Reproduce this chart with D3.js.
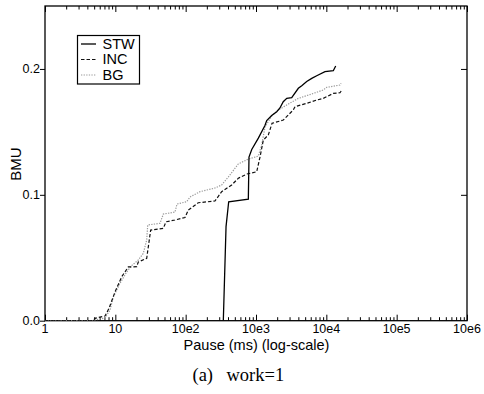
<!DOCTYPE html>
<html><head><meta charset="utf-8">
<script src="https://cdn.jsdelivr.net/npm/d3@7"></script>
<style>
html,body{margin:0;padding:0;background:#fff;}
svg{display:block;}
text{font-family:"Liberation Sans",Arial,Helvetica,sans-serif;fill:#000;}
text.serif{font-family:"Liberation Serif","Times New Roman",serif;}
</style></head>
<body><svg id="chart" width="484" height="394"></svg>
<script>
// ---- data (Pause in ms, BMU) ----
const seriesNames = ["STW", "INC", "BG"];
const stwX = [343, 375, 409, 778, 795, 870, 1080, 1340, 1420, 1670, 1970, 2190, 2440, 2740, 3220, 4000, 4470, 5260, 6200, 7300, 9570, 12560, 13590];
const stwY = [0, 0.0747, 0.0945, 0.0966, 0.130, 0.136, 0.145, 0.155, 0.159, 0.163, 0.166, 0.169, 0.174, 0.1767, 0.1772, 0.1846, 0.1867, 0.190, 0.1925, 0.1946, 0.1978, 0.1986, 0.2023];
const incX = [1, 4.81, 5.14, 7.13, 8.13, 9.89, 12.32, 15.29, 20.13, 21.21, 27.93, 31.8, 48.1, 52.5, 70.5, 87.8, 97.9, 109, 151, 261, 325, 451, 560, 738, 1023, 1140, 1271, 1496, 1690, 2445, 3390, 3590, 5260, 7300, 9060, 12560, 15640, 16870];
const incY = [0, 0, 0.0019, 0.0037, 0.0098, 0.0228, 0.0349, 0.0427, 0.0429, 0.0466, 0.0496, 0.0720, 0.0734, 0.0786, 0.0800, 0.0813, 0.0820, 0.0879, 0.0937, 0.0951, 0.1025, 0.1078, 0.1131, 0.1165, 0.1183, 0.1300, 0.1435, 0.1475, 0.1568, 0.1594, 0.1674, 0.1700, 0.1727, 0.1753, 0.1766, 0.1806, 0.1811, 0.1838];
const bgX = [1, 4.66, 6.05, 7.13, 8.40, 9.36, 11.65, 14.51, 17.09, 21.21, 24.99, 27.93, 28.86, 43.2, 48.1, 70.5, 75.3, 103.5, 115.3, 160, 261, 325, 404, 560, 778, 1079, 1206, 1343, 1673, 2076, 3045, 3996, 6195, 9060, 10125, 15640, 16170];
const bgY = [0, 0, 0.0014, 0.0021, 0.0085, 0.0188, 0.0297, 0.0387, 0.0438, 0.0482, 0.0535, 0.0641, 0.0760, 0.0774, 0.0847, 0.0863, 0.0927, 0.0945, 0.0983, 0.1025, 0.1054, 0.1078, 0.1141, 0.1245, 0.1284, 0.1308, 0.1396, 0.1539, 0.1626, 0.1674, 0.1729, 0.1766, 0.1801, 0.1833, 0.1854, 0.1872, 0.1886];
const xTickValues = [1, 10, 100, 1000, 10000, 100000, 1000000];
const xTickLabels = ["1", "10", "10e2", "10e3", "10e4", "10e5", "10e6"];
const yTickValues = [0, 0.1, 0.2];
const yTickLabels = ["0.0", "0.1", "0.2"];
const xLabel = "Pause (ms) (log-scale)";
const yLabel = "BMU";
const captionA = "(a)";
const captionB = "work=1";

// ---- layout ----
const L = 45, R = 467, T = 6, B = 320.7;
const svg = d3.select("#chart");
const x = d3.scaleLog().domain([1, 1e6]).range([L, R]);
const y = d3.scaleLinear().domain([0, 0.25]).range([B, T]);

// minor ticks
const minor = [];
for (let d = 0; d < 6; d++) for (let k = 2; k <= 9; k++) minor.push(k * Math.pow(10, d));

function strip(g){ g.select(".domain").remove(); g.selectAll("text").remove(); g.selectAll("line").attr("stroke","#000").attr("stroke-width",1); }

// bottom (inward ticks)
svg.append("g").attr("transform",`translate(0,${B})`)
  .call(d3.axisBottom(x).tickValues(minor).tickSize(-3.5).tickFormat("")).call(strip);
svg.append("g").attr("transform",`translate(0,${B})`)
  .call(d3.axisBottom(x).tickValues(xTickValues).tickSize(-6).tickFormat("")).call(strip);
// top (inward ticks)
svg.append("g").attr("transform",`translate(0,${T})`)
  .call(d3.axisTop(x).tickValues(minor).tickSize(-3.5).tickFormat("")).call(strip);
svg.append("g").attr("transform",`translate(0,${T})`)
  .call(d3.axisTop(x).tickValues(xTickValues).tickSize(-6).tickFormat("")).call(strip);
// left (outward) and right (inward)
svg.append("g").attr("transform",`translate(${L},0)`)
  .call(d3.axisLeft(y).tickValues(yTickValues).tickSize(5).tickFormat("")).call(strip);
svg.append("g").attr("transform",`translate(${R},0)`)
  .call(d3.axisRight(y).tickValues(yTickValues.slice(1)).tickSize(-6).tickFormat("")).call(strip);

// tick labels
svg.append("g").selectAll("text").data(xTickValues).join("text")
  .attr("x", d => x(d)).attr("y", B + 12.5).attr("text-anchor","middle")
  .attr("font-size", 12.5).text((d,i) => xTickLabels[i]);
svg.append("g").selectAll("text").data(yTickValues).join("text")
  .attr("x", L - 5).attr("y", d => y(d) + 4.5).attr("text-anchor","end")
  .attr("font-size", 12.5).text((d,i) => yTickLabels[i]);

// frame
svg.append("rect").attr("x",L).attr("y",T).attr("width",R-L).attr("height",B-T)
  .attr("fill","none").attr("stroke","#000").attr("stroke-width",1.3);

// axis labels
svg.append("text").attr("x", 256.5).attr("y", 349.5).attr("text-anchor","middle")
  .attr("font-size", 14.5).text(xLabel);
svg.append("text").attr("transform","translate(20.5,164) rotate(-90)").attr("text-anchor","middle")
  .attr("font-size", 15).text(yLabel);

// series
const styles = [
  {xs: stwX, ys: stwY, color:"#000", dash:null, w:1.3},
  {xs: incX, ys: incY, color:"#111", dash:"3.5,2", w:1.2},
  {xs: bgX, ys: bgY, color:"#9a9a9a", dash:"1.3,1.3", w:1.2}
];
const line = d3.line().x(d => x(d[0])).y(d => y(d[1]));
svg.append("defs").append("clipPath").attr("id","clip").append("rect")
  .attr("x",L).attr("y",T).attr("width",R-L).attr("height",B-T);
const plot = svg.append("g").attr("clip-path","url(#clip)");
styles.slice().reverse().forEach(s => {
  plot.append("path").datum(s.xs.map((v,i)=>[v, s.ys[i]]))
    .attr("d", line).attr("fill","none").attr("stroke", s.color)
    .attr("stroke-width", s.w).attr("stroke-dasharray", s.dash);
});

// legend
const lg = svg.append("g");
lg.append("rect").attr("x",77.5).attr("y",35.5).attr("width",62).attr("height",48.5)
  .attr("fill","#fff").attr("stroke","#000").attr("stroke-width",1.2);
seriesNames.forEach((n,i) => {
  const yy = 44 + i*15.5;
  lg.append("line").attr("x1",81).attr("x2",96).attr("y1",yy).attr("y2",yy)
    .attr("stroke", styles[i].color).attr("stroke-width", styles[i].w).attr("stroke-dasharray", styles[i].dash);
  lg.append("text").attr("x",102.5).attr("y",yy+4.8).attr("font-size",14.5).text(n);
});

// caption
svg.append("text").attr("class","serif").attr("x",192.5).attr("y",380.5)
  .attr("font-size",18.5).text(captionA);
svg.append("text").attr("class","serif").attr("x",226.5).attr("y",380.5)
  .attr("font-size",18.5).text(captionB);
</script></body></html>
